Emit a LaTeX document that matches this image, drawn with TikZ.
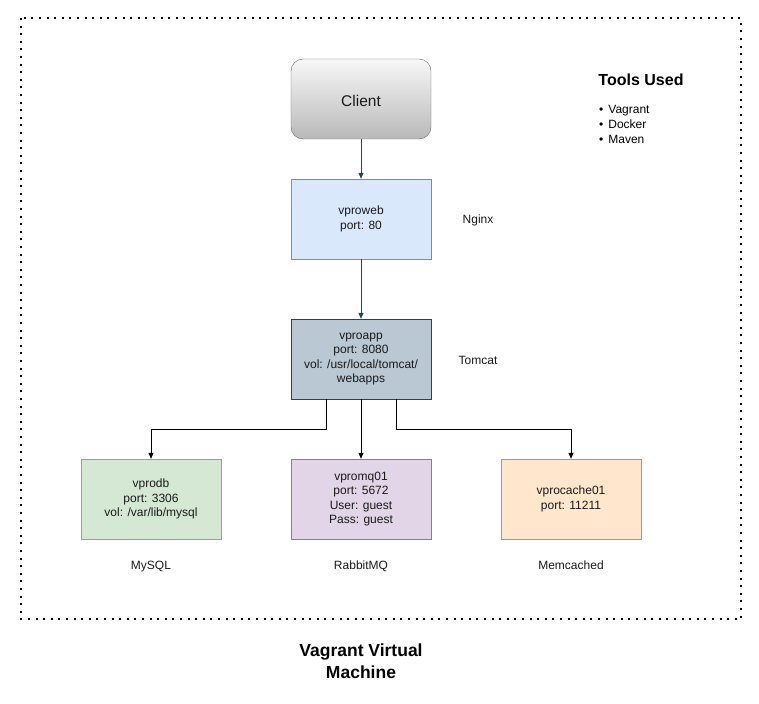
\documentclass[tikz,border=0pt]{standalone}
\usepackage{fontspec}
\setmainfont{Liberation Sans}
\usetikzlibrary{arrows.meta}

\definecolor{webfill}{HTML}{DAE8FC}
\definecolor{webline}{HTML}{6C8EBF}
\definecolor{appfill}{HTML}{BAC8D3}
\definecolor{appline}{HTML}{23445D}
\definecolor{dbfill}{HTML}{D5E8D4}
\definecolor{dbline}{HTML}{82B366}
\definecolor{mqfill}{HTML}{E1D5E7}
\definecolor{mqline}{HTML}{9673A6}
\definecolor{cachefill}{HTML}{FFE6CC}
\definecolor{cacheline}{HTML}{D79B00}

\begin{document}
\begin{tikzpicture}[x=1pt, y=-1pt,
    box/.style={draw, minimum width=140pt, minimum height=80pt, align=center,
        text=black!90, font=\fontsize{12}{14.5}\selectfont},
    tag/.style={font=\fontsize{12}{14.5}\selectfont, text=black!90, text height=9pt, text depth=3pt},
    link/.style={-{Triangle[length=6pt,width=5pt]}, line width=0.8pt},
    darklink/.style={link, appline}]
        \useasboundingbox (0,0) rectangle (759,703);
        \draw[line width=2pt, dash pattern=on 2pt off 5.6pt] (21,18) rectangle (741,619);

        \node[box, rounded corners=12pt, draw=black!60, top color=gray!6, bottom color=gray!55,
            text height=15pt, text depth=0pt, font=\fontsize{15.5}{18}\selectfont] (client) at (361,99) {Client};
        \node[box, fill=webfill, draw=webline] (web) at (361,219) {vproweb\\port: 80};
        \node[box, fill=appfill, draw=appline] (app) at (361,359) {vproapp\\port: 8080\\vol: /usr/local/tomcat/\\webapps};
        \node[box, fill=dbfill, draw=dbline] (db) at (151,499) {vprodb\\port: 3306\\vol: /var/lib/mysql};
        \node[box, fill=mqfill, draw=mqline] (mq) at (361,499) {vpromq01\\port: 5672\\User: guest\\Pass: guest};
        \node[box, fill=cachefill, draw=cacheline] (cache) at (571,499) {vprocache01\\port: 11211};

        \node[tag] (nginx) at (478,220) {Nginx};
        \node[tag] (tomcat) at (478,361) {Tomcat};
        \node[tag] (mysql) at (151,566) {MySQL};
        \node[tag] (rabbit) at (361,566) {RabbitMQ};
        \node[tag] (memc) at (571,566) {Memcached};

        \node[font=\fontsize{16}{19}\selectfont\bfseries] (tools) at (641,80) {Tools Used};
        \node[anchor=north west, align=left, inner sep=0pt, font=\fontsize{12}{15}\selectfont] (list) at (599,105)
            {\textbullet\hspace{5pt}Vagrant\\ \textbullet\hspace{5pt}Docker\\ \textbullet\hspace{5pt}Maven};
        \node[align=center, font=\fontsize{17.5}{22.5}\selectfont\bfseries] (vm) at (361,661) {Vagrant Virtual\\Machine};

        \draw[darklink] (client) -- (web);
        \draw[darklink] (web) -- (app);
        \draw[link] (app) -- (mq);
        \draw[link] ([xshift=-35pt]app.south) |- (151,429) -- (db);
        \draw[link] ([xshift=35pt]app.south) |- (571,429) -- (cache);
    \end{tikzpicture}
\end{document}
